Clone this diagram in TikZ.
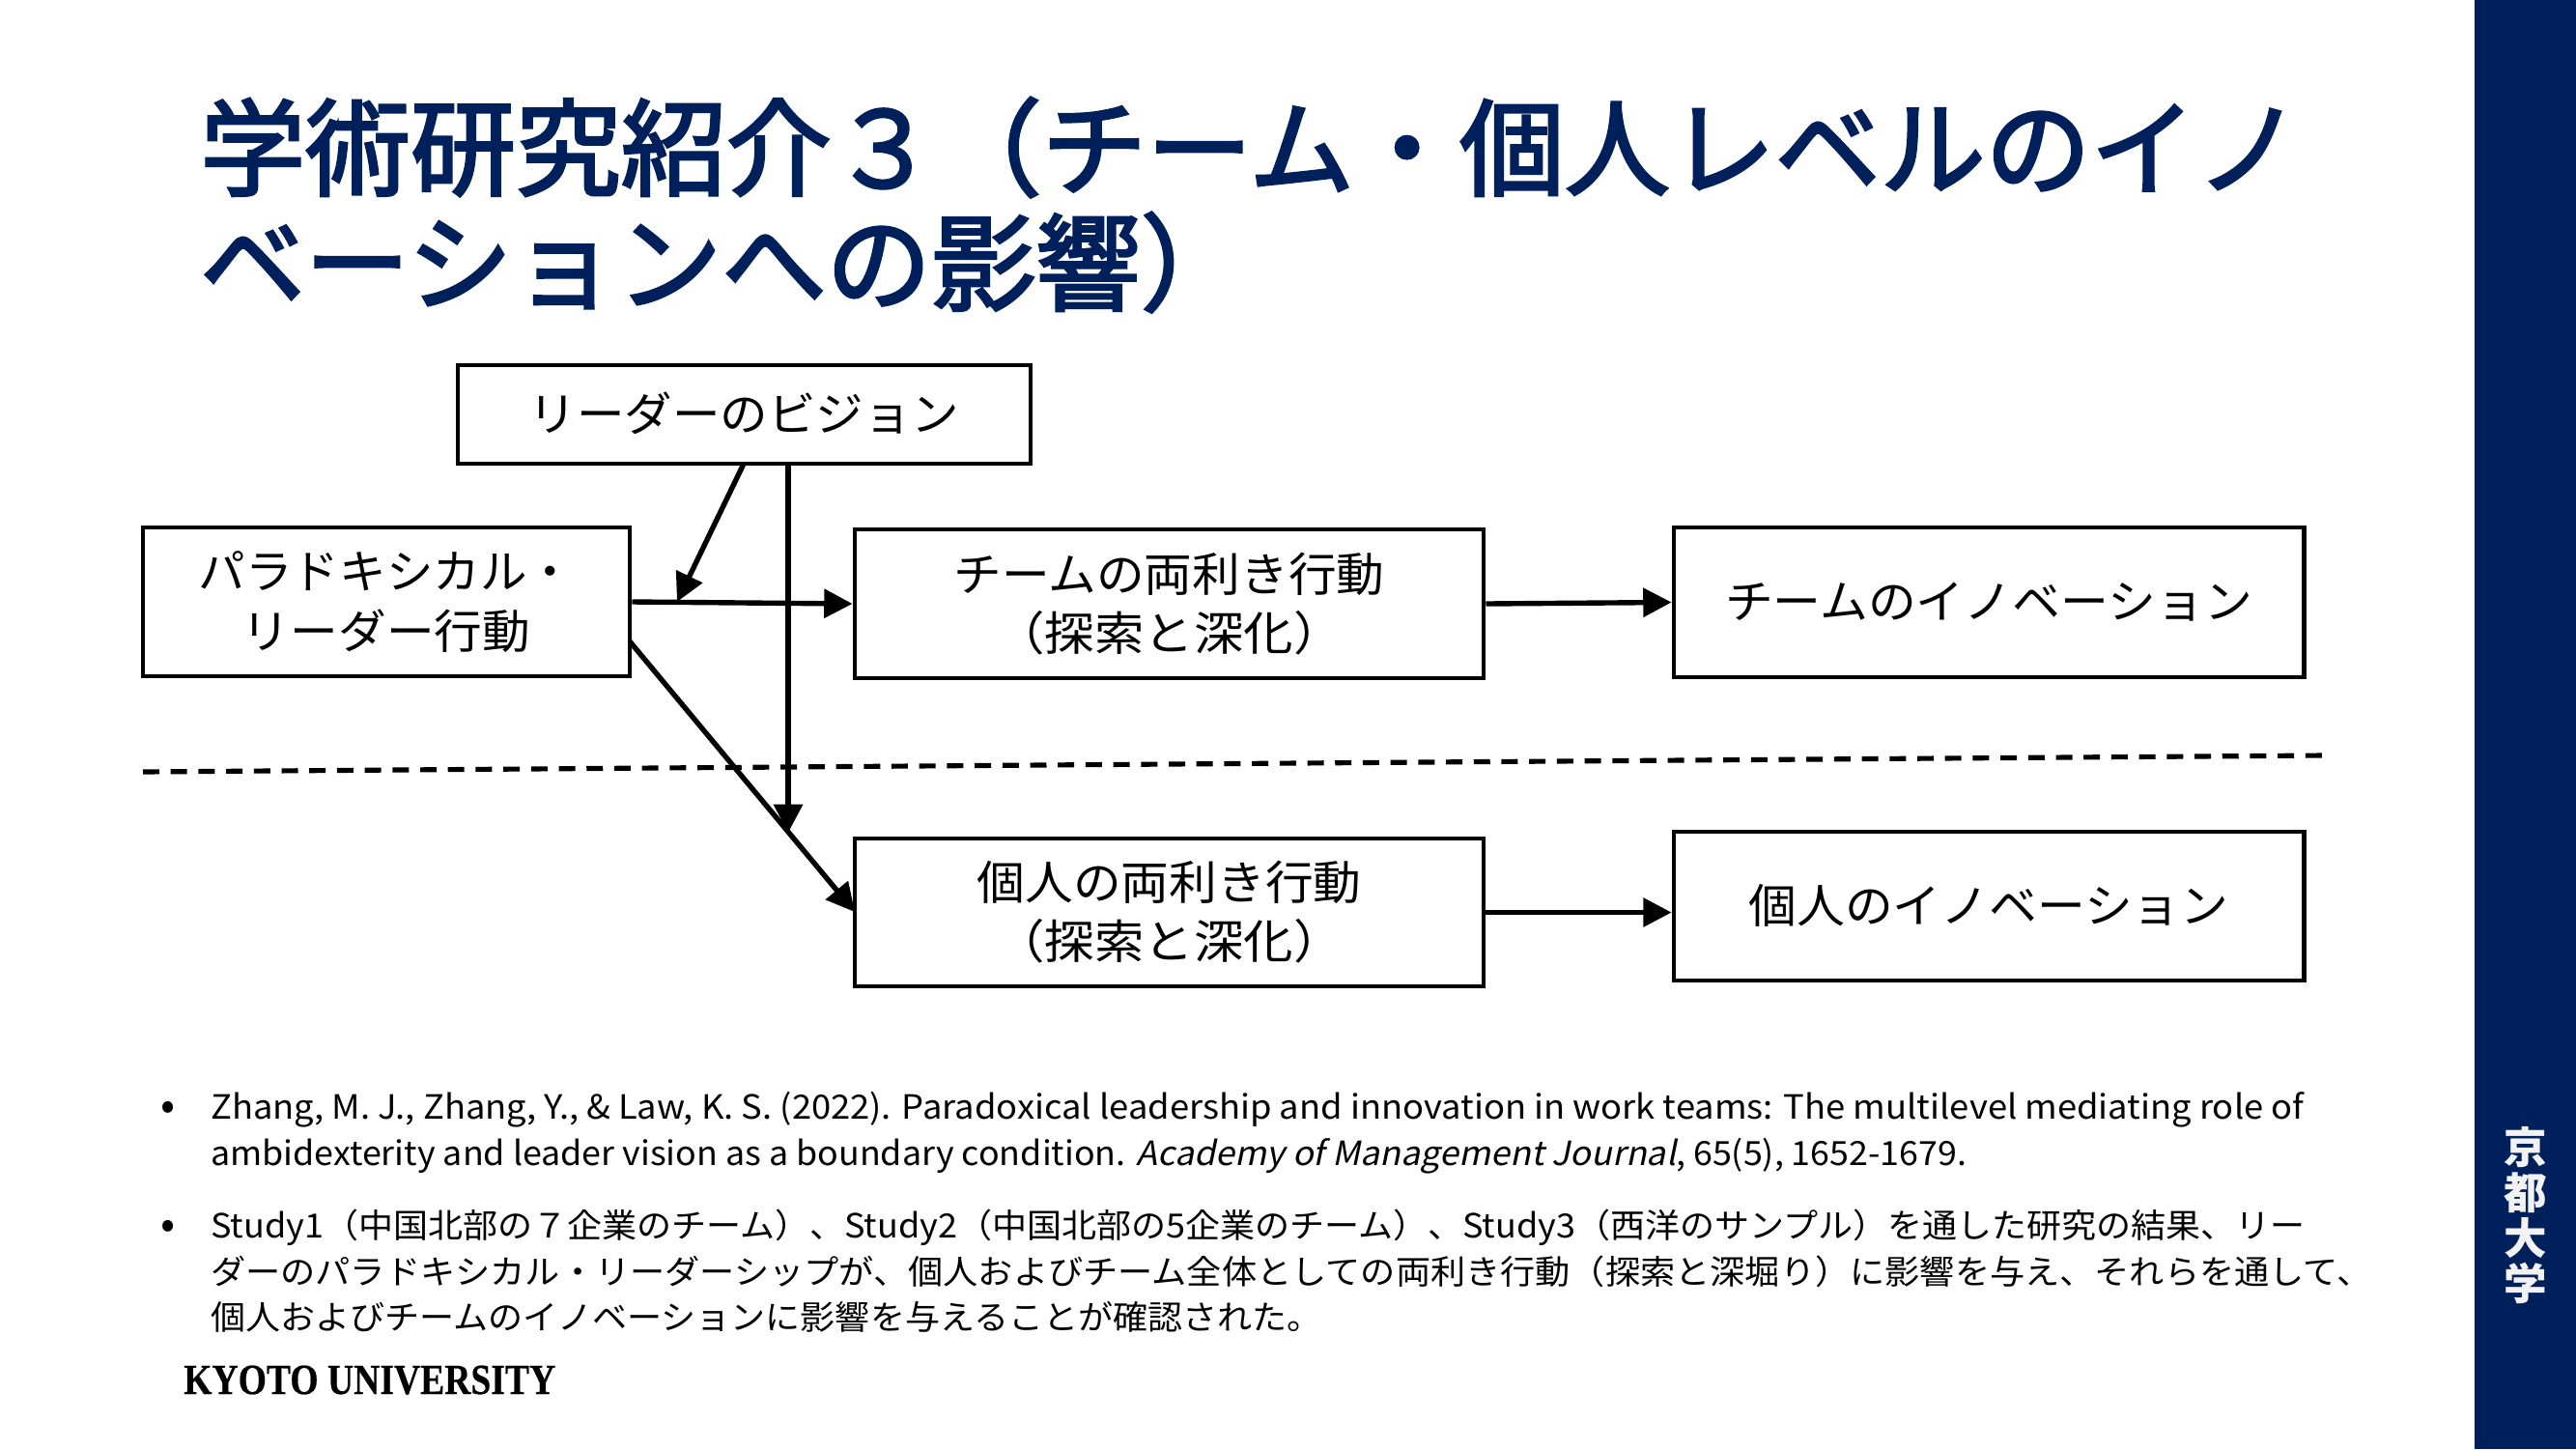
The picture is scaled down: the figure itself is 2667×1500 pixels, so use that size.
\documentclass[tikz,border=0pt]{standalone}
\usepackage{fontspec}
\usetikzlibrary{arrows.meta}
\setmainfont{Noto Sans CJK JP}
\newfontfamily\slantfont[FakeSlant=0.2]{Noto Sans CJK JP}
\newfontfamily\titlefont[FakeBold=2.6]{Noto Sans CJK JP}
\newfontfamily\serifbold[FakeBold=0.5]{Liberation Serif Bold}
\definecolor{kyotonavy}{HTML}{00205B}
\newsavebox\fitbox
\newcommand\fitx[2]{\sbox\fitbox{#2}\pgfmathsetmacro\fitr{#1*0.8536/\the\wd\fitbox}\scalebox{\fitr}[1]{\usebox\fitbox}}
\newcommand\fsz[1]{\fontsize{#1pt}{#1pt}\selectfont}
\tikzset{
  x=0.03cm,y=-0.03cm,
  box/.style={draw=black,line width=4.2pt,fill=white,inner sep=0pt,align=center,font=\fsz{41},text=black},
  conn/.style={line width=4.6pt,draw=black,-{Triangle[length=25pt,width=25pt]}},
  divider/.style={line width=4.4pt,draw=black,dash pattern=on 14.5pt off 10pt},
  titleline/.style={anchor=base west,inner sep=0pt,font=\fsz{93}\titlefont,text=kyotonavy},
  bodyline/.style={anchor=base west,inner sep=0pt,font=\fsz{29.5},text=black},
  bulletmark/.style={anchor=base,inner sep=0pt,font=\fsz{38},text=black},
}
\begin{document}
\begin{tikzpicture}
\useasboundingbox (0,0) rectangle (2667,1500);
\fill[white] (0,0) rectangle (2667,1500);
\fill[kyotonavy] (2562,0) rectangle (2667,1500);
\node[titleline] (t1) at (207,194) {\fitx{2175}{学術研究紹介３（チーム・個人レベルのイノ}};
\node[titleline] (t2) at (207,313) {\fitx{1082}{ベーションへの影響）}};

\node[box,minimum width=17.79cm,minimum height=3.06cm] (vision) at (770.5,429) {\raisebox{5pt}{\fitx{446}{リーダーのビジョン}}};
\node[box,minimum width=15.12cm,minimum height=4.62cm,align=center] (para) at (400,623) {\fitx{388}{パラドキシカル・}\\[12pt]\fitx{298}{リーダー行動}};
\node[box,minimum width=19.53cm,minimum height=4.62cm] (teamamb) at (1210.5,625) {\fitx{446}{チームの両利き行動}\\[11pt]\fitx{360}{（探索と深化）}};
\node[box,minimum width=19.56cm,minimum height=4.65cm] (teaminno) at (2059,623.5) {\fitx{546}{チームのイノベーション}};
\node[box,minimum width=19.53cm,minimum height=4.59cm] (indamb) at (1210.5,944.5) {\fitx{398}{個人の両利き行動}\\[11pt]\fitx{360}{（探索と深化）}};
\node[box,minimum width=19.56cm,minimum height=4.62cm] (indinno) at (2059,938) {\raisebox{5pt}{\fitx{497}{個人のイノベーション}}};

\coordinate (dashl) at (148,799);
\coordinate (dashr) at (2407,782);
\draw[divider] (dashl) -- (dashr);

\coordinate (v1a) at (770,480);
\coordinate (v1b) at (701,623);
\coordinate (v2a) at (816,480);
\coordinate (v2b) at (816,862);
\coordinate (d1a) at (652,664);
\coordinate (d1b) at (885,944);
\draw[conn] (v1a) -- (v1b);
\draw[conn] (v2a) -- (v2b);
\draw[conn] (para.east) -- (teamamb.west);
\draw[conn] (d1a) -- (d1b);
\draw[conn] (teamamb.east) -- (teaminno.west);
\draw[conn] (indamb.east) -- (indamb.east -| indinno.west);

\node[bulletmark] (b1) at (174,1159) {•};
\node[bulletmark] (b2) at (174,1282) {•};
\node[bodyline] (l1) at (218,1158) {\fitx{2167}{Zhang, M. J., Zhang, Y., \& Law, K. S. (2022). Paradoxical leadership and innovation in work teams: The multilevel mediating role of}};
\node[bodyline] (l2) at (218,1206) {\fitx{1818}{ambidexterity and leader vision as a boundary condition. {\slantfont Academy of Management Journal}, 65(5), 1652-1679.}};
\node[bodyline] (l3) at (218,1281) {\fitx{2168}{Study1（中国北部の７企業のチーム）、Study2（中国北部の5企業のチーム）、Study3（西洋のサンプル）を通した研究の結果、リー}};
\node[bodyline] (l4) at (218,1329) {\fitx{2237}{ダーのパラドキシカル・リーダーシップが、個人およびチーム全体としての両利き行動（探索と深堀り）に影響を与え、それらを通して、}};
\node[bodyline] (l5) at (218,1376) {\fitx{1150}{個人およびチームのイノベーションに影響を与えることが確認された。}};

\node[anchor=base west,inner sep=0pt,font=\fsz{38}\serifbold,text=black] (ku) at (190,1443) {\fitx{385}{KYOTO UNIVERSITY}};
\node[inner sep=0pt,align=center,font=\fontsize{38pt}{40pt}\selectfont\bfseries,text=white!95!black] (kd) at (2615,1258) {京\\都\\大\\学};
\end{tikzpicture}
\end{document}
